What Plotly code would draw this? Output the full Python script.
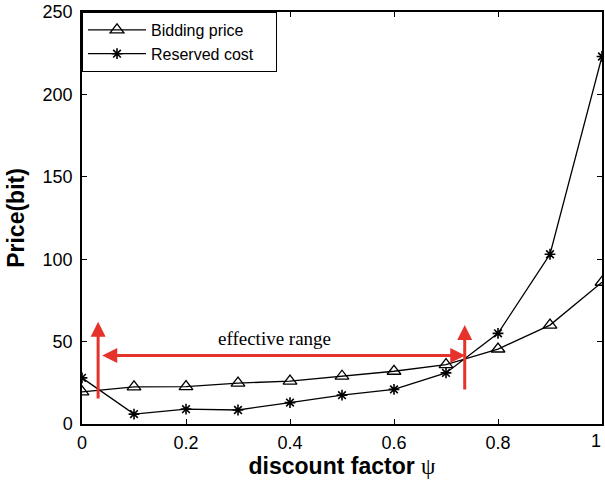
import plotly.graph_objects as go

x_vals = [0, 0.1, 0.2, 0.3, 0.4, 0.5, 0.6, 0.7, 0.8, 0.9, 1.0]
bidding_price = [19.5, 22.5, 22.7, 24.8, 26, 29, 32, 36, 45.5, 60, 86]
reserved_cost = [28, 6, 9, 8.5, 13, 17.5, 21, 31, 55, 103, 223]

x_ticks = [0, 0.2, 0.4, 0.6, 0.8, 1]
x_ticklabels = ["0", "0.2", "0.4", "0.6", "0.8", "1"]
y_ticks = [0, 50, 100, 150, 200, 250]

red = "#e5322a"

fig = go.Figure()
fig.add_trace(go.Scatter(
    x=x_vals, y=bidding_price, mode="lines+markers",
    name="Bidding price&nbsp;&nbsp;&nbsp;&nbsp;&nbsp;&nbsp;",
    line=dict(color="black", width=1.3),
    marker=dict(symbol="triangle-up-open", size=12, color="black", line=dict(width=1.3)),
))
fig.add_trace(go.Scatter(
    x=x_vals, y=reserved_cost, mode="lines+markers", name="Reserved cost",
    line=dict(color="black", width=1.3),
    marker=dict(symbol="asterisk-open", size=9, color="black", line=dict(width=1.6, color="black")),
))

def arrow(x0, y0, x1, y1, side="end"):
    fig.add_annotation(x=x1, y=y1, ax=x0, ay=y0, xref="x", yref="y", axref="x", ayref="y",
                       text="", showarrow=True, arrowhead=2, arrowsize=1.0, arrowwidth=3,
                       arrowcolor=red, arrowside=side, standoff=0, startstandoff=0)

arrow(0.031, 14.5, 0.031, 62)
arrow(0.736, 20, 0.736, 60)
arrow(0.036, 41.5, 0.737, 41.5, side="end+start")

fig.add_annotation(x=0.37, y=52, xref="x", yref="y", text="effective range", showarrow=False,
                   font=dict(family="Liberation Serif", size=19, color="black"))

# the last x tick label sits at the right edge of the page
fig.add_annotation(x=1, y=0, xref="x", yref="y", text="1", showarrow=False, yshift=-17,
                   xanchor="right", xshift=1,
                   font=dict(family="Liberation Sans", size=18, color="black"))

axis_common = dict(
    showline=True, linecolor="black", linewidth=1.5, mirror="ticks", ticks="inside",
    ticklen=5, tickcolor="black", showgrid=False, zeroline=False,
    tickfont=dict(family="Liberation Sans", size=18, color="black"),
)

fig.update_layout(
    width=605, height=484,
    margin=dict(l=82, r=1, t=12, b=60),
    plot_bgcolor="white", paper_bgcolor="white",
    xaxis=dict(range=[0, 1], tickvals=x_ticks, ticktext=x_ticklabels,
               title=dict(text="<b>discount factor</b> <span style='font-family:Liberation Serif'>ψ</span>",
                          font=dict(family="Liberation Sans", size=23, color="black"), standoff=6),
               ticklabelstandoff=2,
               **axis_common),
    yaxis=dict(range=[0, 250], tickvals=y_ticks,
               title=dict(text="<b>Price(bit)</b>",
                          font=dict(family="Liberation Sans", size=23, color="black"), standoff=12),
               ticklabelstandoff=4,
               **axis_common),
    legend=dict(x=0, y=1, xanchor="left", yanchor="top", bgcolor="white",
                bordercolor="black", borderwidth=1, itemwidth=58,
                font=dict(family="Liberation Sans", size=16, color="black"),
                tracegroupgap=2),
    showlegend=True,
)

fig.write_html("out.html")
